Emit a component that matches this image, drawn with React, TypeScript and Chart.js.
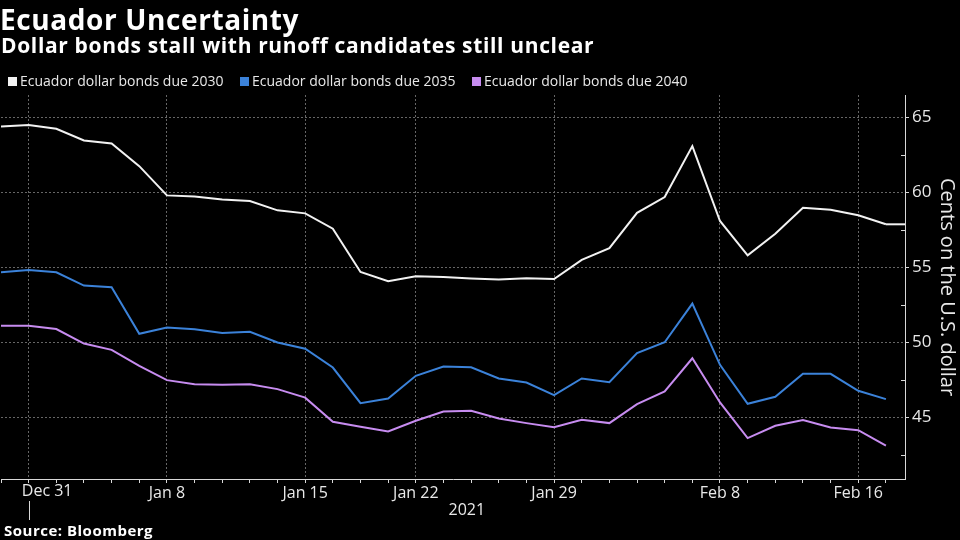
import React, { useEffect, useRef } from "react";
import { Chart, registerables } from "chart.js";

Chart.register(...registerables);

// Business days shown on the x axis
const dates = [
  "2020-12-30", "2020-12-31",
  "2021-01-04", "2021-01-05", "2021-01-06", "2021-01-07", "2021-01-08",
  "2021-01-11", "2021-01-12", "2021-01-13", "2021-01-14", "2021-01-15",
  "2021-01-19", "2021-01-20", "2021-01-21", "2021-01-22",
  "2021-01-25", "2021-01-26", "2021-01-27", "2021-01-28", "2021-01-29",
  "2021-02-01", "2021-02-02", "2021-02-03", "2021-02-04", "2021-02-05",
  "2021-02-08", "2021-02-09", "2021-02-10", "2021-02-11", "2021-02-12",
  "2021-02-16", "2021-02-17",
];

const tickDates = ["2020-12-31", "2021-01-08", "2021-01-15", "2021-01-22", "2021-01-29", "2021-02-08", "2021-02-16"];
const tickLabels = ["Dec 31", "Jan 8", "Jan 15", "Jan 22", "Jan 29", "Feb 8", "Feb 16"];
const yearStartDate = "2020-12-31";
const yearLabel = "2021";

const bonds2030 = [64.4, 64.5, 64.25, 63.47, 63.27, 61.75, 59.8, 59.73, 59.53, 59.42, 58.8, 58.6, 57.58, 54.69, 54.07, 54.4, 54.36, 54.25, 54.18, 54.27, 54.22, 55.5, 56.28, 58.64, 59.69, 63.09, 58.09, 55.8, 57.24, 58.98, 58.84, 58.47, 57.87];
const bonds2035 = [54.67, 54.82, 54.67, 53.78, 53.67, 50.56, 50.98, 50.87, 50.62, 50.69, 49.98, 49.57, 48.31, 45.93, 46.24, 47.76, 48.38, 48.33, 47.58, 47.31, 46.47, 47.58, 47.33, 49.27, 50.0, 52.58, 48.49, 45.89, 46.36, 47.89, 47.89, 46.76, 46.2];
const bonds2040 = [51.1, 51.1, 50.88, 49.91, 49.49, 48.42, 47.47, 47.2, 47.16, 47.2, 46.87, 46.3, 44.69, 44.36, 44.04, 44.76, 45.38, 45.42, 44.91, 44.6, 44.33, 44.82, 44.6, 45.87, 46.71, 48.93, 45.98, 43.6, 44.42, 44.8, 44.31, 44.13, 43.09];

const seriesNames = ["Ecuador dollar bonds due 2030", "Ecuador dollar bonds due 2035", "Ecuador dollar bonds due 2040"];
const seriesColors = ["#f2f2f2", "#3b82d9", "#c78cf0"];

const yMajorTicks = [45, 50, 55, 60, 65];
const yMinorTicks = [42.5, 47.5, 52.5, 57.5, 62.5];
const yMin = 40.87;
const yMax = 66.5;

const FONT = "'Open Sans', 'DejaVu Sans', sans-serif";
const GRID = "#666666";
const TEXT = "#e8e8e8";
const AXIS = "#d8d8d8";

const toPoints = (arr: number[]) => arr.map((v, i) => ({ x: i, y: v }));

export default function App() {
  const ref = useRef<HTMLCanvasElement | null>(null);

  useEffect(() => {
    document.body.style.margin = "0";
    document.body.style.background = "#000";
    const canvas = ref.current;
    if (!canvas) return;
    const labeledIdx = tickDates.map((d) => dates.indexOf(d));
    const yearIdx = dates.indexOf(yearStartDate);
    const lastIdx = dates.length - 1;

    const extras = {
      id: "extras",
      afterDraw(chart: any) {
        const { ctx, chartArea } = chart;
        const xs = chart.scales.x;
        const ys = chart.scales.y;
        ctx.save();
        // year separator (below the first label)
        const xy = xs.getPixelForValue(yearIdx);
        ctx.strokeStyle = AXIS;
        ctx.lineWidth = 1;
        ctx.beginPath();
        ctx.moveTo(Math.round(xy) + 0.5, chartArea.bottom + 22);
        ctx.lineTo(Math.round(xy) + 0.5, chartArea.bottom + 41);
        ctx.stroke();
        // first (year-start) tick label, set to the right of the separator
        ctx.fillStyle = TEXT;
        ctx.font = `16px ${FONT}`;
        ctx.textAlign = "center";
        ctx.textBaseline = "middle";
        ctx.fillText(tickLabels[0], xy + 18.5, chartArea.bottom + 12);
        ctx.fillText(yearLabel, (xy + chartArea.right) / 2, chartArea.bottom + 31);
        // minor y ticks (inside)
        ctx.strokeStyle = AXIS;
        yMinorTicks.forEach((v) => {
          const y = Math.round(ys.getPixelForValue(v)) + 0.5;
          ctx.beginPath();
          ctx.moveTo(chartArea.right - 4, y);
          ctx.lineTo(chartArea.right, y);
          ctx.stroke();
        });
        // last value extension of first series
        const meta = chart.getDatasetMeta(0);
        const lp = meta.data[lastIdx];
        if (lp) {
          ctx.strokeStyle = seriesColors[0];
          ctx.lineWidth = 2;
          ctx.beginPath();
          ctx.moveTo(lp.x, lp.y);
          ctx.lineTo(chartArea.right, lp.y);
          ctx.stroke();
        }
        ctx.restore();
      },
    };

    const chart = new Chart(canvas, {
      type: "line",
      data: {
        datasets: [bonds2030, bonds2035, bonds2040].map((s, k) => ({
          label: seriesNames[k],
          data: toPoints(s),
          borderColor: seriesColors[k],
          backgroundColor: seriesColors[k],
          borderWidth: 2,
          pointRadius: 0,
          tension: 0,
        })),
      },
      options: {
        responsive: false,
        animation: false,
        devicePixelRatio: 1,
        layout: { padding: { top: 95, left: 0, right: 0, bottom: 0 } },
        plugins: {
          legend: { display: false },
          title: { display: false },
          tooltip: { enabled: false },
        },
        scales: {
          x: {
            type: "linear",
            min: 0,
            max: lastIdx + 0.69,
            afterBuildTicks: (scale: any) => {
              scale.ticks = dates.map((_, i) => ({ value: i }));
            },
            afterFit: (scale: any) => {
              scale.height = 61;
            },
            ticks: {
              autoSkip: false,
              maxRotation: 0,
              minRotation: 0,
              padding: 1,
              color: TEXT,
              font: { family: FONT, size: 16 },
              callback: (v: any) => {
                const j = labeledIdx.indexOf(Number(v));
                return j > 0 ? tickLabels[j] : "";
              },
            },
            grid: {
              color: (c: any) => (c.tick && labeledIdx.includes(c.tick.value) ? GRID : "transparent"),
              lineWidth: 1,
              drawTicks: true,
              tickLength: 4,
              tickColor: AXIS,
            },
            border: { display: true, color: AXIS, width: 1, dash: [2, 2] },
          },
          y: {
            type: "linear",
            position: "right",
            min: yMin,
            max: yMax,
            afterBuildTicks: (scale: any) => {
              scale.ticks = yMajorTicks.map((v) => ({ value: v }));
            },
            afterFit: (scale: any) => {
              scale.width = 55;
            },
            ticks: {
              padding: 3,
              color: TEXT,
              font: { family: FONT, size: 17 },
              callback: (v: any) => String(v),
            },
            grid: {
              color: GRID,
              lineWidth: 1,
              drawTicks: true,
              tickLength: 4,
              tickColor: AXIS,
            },
            border: { display: true, color: AXIS, width: 1, dash: [2, 2] },
            title: {
              display: true,
              text: "Cents on the U.S. dollar",
              color: TEXT,
              font: { family: FONT, size: 20 },
              padding: { top: 1, bottom: 0 },
            },
          },
        },
      },
      plugins: [extras],
    } as any);

    return () => chart.destroy();
  }, []);

  const legendLeft = [8, 240, 472];

  return (
    <div style={{ position: "fixed", left: 0, top: 0, width: 960, height: 540, background: "#000", overflow: "hidden", fontFamily: FONT, color: "#fff" }}>
      <canvas ref={ref} width={960} height={540} style={{ position: "absolute", left: 0, top: 0, width: 960, height: 540 }} />
      <div style={{ position: "absolute", left: 0, top: 5, fontSize: 28, lineHeight: "28px", fontWeight: 700, letterSpacing: "0.6px", whiteSpace: "nowrap" }}>
        Ecuador Uncertainty
      </div>
      <div style={{ position: "absolute", left: 1, top: 35, fontSize: 21, lineHeight: "21px", fontWeight: 700, letterSpacing: "0.65px", whiteSpace: "nowrap" }}>
        Dollar bonds stall with runoff candidates still unclear
      </div>
      {seriesNames.map((n, k) => (
        <div key={n} style={{ position: "absolute", left: legendLeft[k], top: 74, height: 14, display: "flex", alignItems: "center", whiteSpace: "nowrap", fontSize: 14, lineHeight: "14px", color: TEXT }}>
          <span style={{ display: "inline-block", width: 9, height: 9, background: seriesColors[k], marginRight: 3 }} />
          <span>{n}</span>
        </div>
      ))}
      <div style={{ position: "absolute", left: 4, top: 523, fontSize: 15, lineHeight: "15px", fontWeight: 700, letterSpacing: "0.5px", whiteSpace: "nowrap" }}>
        Source: Bloomberg
      </div>
    </div>
  );
}
